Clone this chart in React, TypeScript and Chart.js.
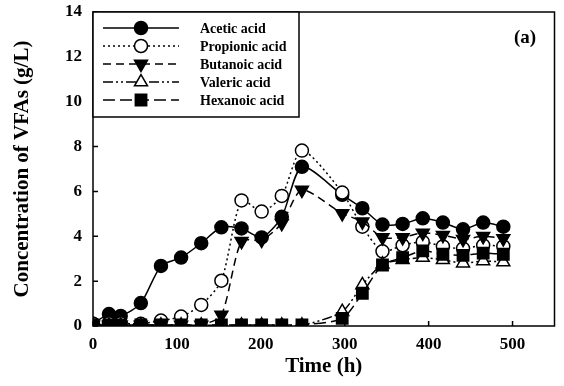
import React, { useEffect, useRef } from "react";
import { Chart, registerables } from "chart.js";

Chart.register(...registerables);

const times = [0, 19, 33, 57, 81, 105, 129, 153, 177, 201, 225, 249, 297, 321, 345, 369, 393, 417, 441, 465, 489];
const acetic = [0.1, 0.53, 0.45, 1.02, 2.68, 3.05, 3.69, 4.4, 4.35, 3.95, 4.87, 7.1, 5.85, 5.25, 4.52, 4.55, 4.8, 4.61, 4.31, 4.61, 4.43];
const propionic = [0.1, 0.12, 0.12, 0.1, 0.24, 0.42, 0.94, 2.02, 5.6, 5.1, 5.8, 7.82, 5.95, 4.43, 3.33, 3.6, 3.75, 3.55, 3.45, 3.6, 3.55];
const butanoic = [0.05, 0.05, 0.05, 0.05, 0.05, 0.05, 0.05, 0.49, 3.78, 3.83, 4.58, 6.06, 5.02, 4.65, 3.95, 3.95, 4.15, 4.05, 3.87, 4.0, 3.9];
const valeric = [0.03, 0.03, 0.03, 0.03, 0.03, 0.03, 0.03, 0.03, 0.03, 0.03, 0.03, 0.03, 0.64, 1.83, 2.75, 2.95, 3.05, 2.95, 2.8, 2.9, 2.85];
const hexanoic = [0.05, 0.05, 0.05, 0.05, 0.05, 0.05, 0.05, 0.05, 0.05, 0.05, 0.05, 0.05, 0.34, 1.46, 2.72, 3.05, 3.35, 3.2, 3.15, 3.25, 3.2];

const seriesNames = ["Acetic acid", "Propionic acid", "Butanoic acid", "Valeric acid", "Hexanoic acid"];
const xTicks = [0, 100, 200, 300, 400, 500];
const yTicks = [0, 2, 4, 6, 8, 10, 12, 14];
const panelLabel = "(a)";

const FONT = "'Liberation Serif', 'Times New Roman', serif";

type Style = {
  dash: number[];
  point: string;
  radius: number;
  rotation: number;
  fill: string;
};

const styles: Style[] = [
  { dash: [], point: "circle", radius: 6.5, rotation: 0, fill: "#000" },
  { dash: [2, 3], point: "circle", radius: 6.5, rotation: 0, fill: "#fff" },
  { dash: [8, 5], point: "triangle", radius: 7.5, rotation: 180, fill: "#000" },
  { dash: [10, 3, 2, 3, 2, 3], point: "triangle", radius: 7.5, rotation: 0, fill: "#fff" },
  { dash: [12, 5], point: "rect", radius: 8, rotation: 0, fill: "#000" },
];

function drawMarker(ctx: CanvasRenderingContext2D, s: Style, x: number, y: number) {
  ctx.save();
  ctx.setLineDash([]);
  ctx.fillStyle = s.fill;
  ctx.strokeStyle = "#000";
  ctx.lineWidth = 1.5;
  ctx.beginPath();
  const r = s.radius;
  if (s.point === "circle") {
    ctx.arc(x, y, r, 0, Math.PI * 2);
  } else if (s.point === "rect") {
    const h = r * Math.SQRT1_2;
    ctx.rect(x - h, y - h, 2 * h, 2 * h);
  } else {
    const rot = (s.rotation * Math.PI) / 180;
    for (let i = 0; i < 3; i++) {
      const a = rot + (i * 2 * Math.PI) / 3;
      const px = x + Math.sin(a) * r;
      const py = y - Math.cos(a) * r;
      if (i === 0) ctx.moveTo(px, py);
      else ctx.lineTo(px, py);
    }
    ctx.closePath();
  }
  ctx.fill();
  ctx.stroke();
  ctx.restore();
}

const framePlugin = {
  id: "framePlugin",
  afterDraw(chart: any) {
    const ctx: CanvasRenderingContext2D = chart.ctx;
    const { left, right, top, bottom } = chart.chartArea;
    const xs = chart.scales.x;
    const ys = chart.scales.y;
    ctx.save();
    ctx.strokeStyle = "#000";
    ctx.lineWidth = 1.5;
    ctx.setLineDash([]);
    ctx.strokeRect(left, top, right - left, bottom - top);
    ctx.beginPath();
    xTicks.forEach((v) => {
      const px = xs.getPixelForValue(v);
      ctx.moveTo(px, bottom);
      ctx.lineTo(px, bottom - 5);
    });
    yTicks.forEach((v) => {
      const py = ys.getPixelForValue(v);
      ctx.moveTo(left, py);
      ctx.lineTo(left + 5, py);
    });
    ctx.stroke();

    // legend
    const bx = left;
    const by = top;
    const bw = 206;
    const bh = 105;
    ctx.fillStyle = "#fff";
    ctx.fillRect(bx, by, bw, bh);
    ctx.strokeRect(bx, by, bw, bh);
    seriesNames.forEach((name, i) => {
      const s = styles[i];
      const ry = by + 16 + i * 18;
      ctx.save();
      ctx.lineWidth = 1.5;
      ctx.setLineDash(s.dash);
      ctx.beginPath();
      ctx.moveTo(bx + 10, ry);
      ctx.lineTo(bx + 86, ry);
      ctx.stroke();
      ctx.restore();
      drawMarker(ctx, s, bx + 48, ry);
      ctx.fillStyle = "#000";
      ctx.font = `bold 14px ${FONT}`;
      ctx.textAlign = "left";
      ctx.textBaseline = "middle";
      ctx.fillText(name, bx + 107, ry + 1);
    });

    ctx.fillStyle = "#000";
    ctx.font = `bold 19px ${FONT}`;
    ctx.textAlign = "center";
    ctx.textBaseline = "middle";
    ctx.fillText(panelLabel, 525, 38);
    ctx.restore();
  },
};

export default function App() {
  const ref = useRef<HTMLCanvasElement | null>(null);
  useEffect(() => {
    if (!ref.current) return;
    const allSeries = [acetic, propionic, butanoic, valeric, hexanoic];
    const orders = [4, 3, 2, 1, 0];
    const chart = new Chart(ref.current, {
      type: "line",
      data: {
        datasets: allSeries.map((vals, i) => ({
          label: seriesNames[i],
          data: times.map((t, j) => ({ x: t, y: vals[j] })),
          borderColor: "#000",
          borderWidth: 1.5,
          borderDash: styles[i].dash,
          pointStyle: styles[i].point as any,
          pointRadius: styles[i].radius,
          pointRotation: styles[i].rotation,
          pointBackgroundColor: styles[i].fill,
          pointBorderColor: "#000",
          pointBorderWidth: 1.5,
          tension: 0.25,
          fill: false,
          order: orders[i],
        })),
      },
      options: {
        responsive: false,
        animation: false,
        events: [],
        layout: { padding: { left: 0, right: 3, top: 12, bottom: 0 } },
        plugins: { legend: { display: false }, tooltip: { enabled: false } },
        scales: {
          x: {
            type: "linear",
            min: 0,
            max: 550,
            grid: { display: false, drawTicks: false },
            border: { display: false },
            afterBuildTicks: (scale: any) => {
              scale.ticks = xTicks.map((v) => ({ value: v }));
            },
            afterFit: (scale: any) => {
              scale.height = 60;
              scale.paddingLeft = 0;
              scale.paddingRight = 0;
            },
            ticks: {
              padding: 8,
              color: "#000",
              font: { family: FONT, size: 17, weight: "bold" },
            },
            title: {
              display: true,
              text: "Time (h)",
              color: "#000",
              font: { family: FONT, size: 21, weight: "bold" },
              padding: { top: 0, bottom: 7 },
            },
          },
          y: {
            type: "linear",
            min: 0,
            max: 14,
            grid: { display: false, drawTicks: false },
            border: { display: false },
            afterBuildTicks: (scale: any) => {
              scale.ticks = yTicks.map((v) => ({ value: v }));
            },
            afterFit: (scale: any) => {
              scale.width = 93;
              scale.paddingTop = 0;
              scale.paddingBottom = 0;
            },
            ticks: {
              padding: 11,
              color: "#000",
              font: { family: FONT, size: 17, weight: "bold" },
            },
            title: {
              display: true,
              text: "Concentration of VFAs (g/L)",
              color: "#000",
              font: { family: FONT, size: 21, weight: "bold" },
              padding: { top: 10, bottom: 0 },
            },
          },
        },
      },
      plugins: [framePlugin],
    });
    return () => chart.destroy();
  }, []);
  return (
    <div style={{ position: "fixed", left: 0, top: 0, width: 564, height: 386, background: "#fff" }}>
      <canvas ref={ref} width={564} height={386} />
    </div>
  );
}
